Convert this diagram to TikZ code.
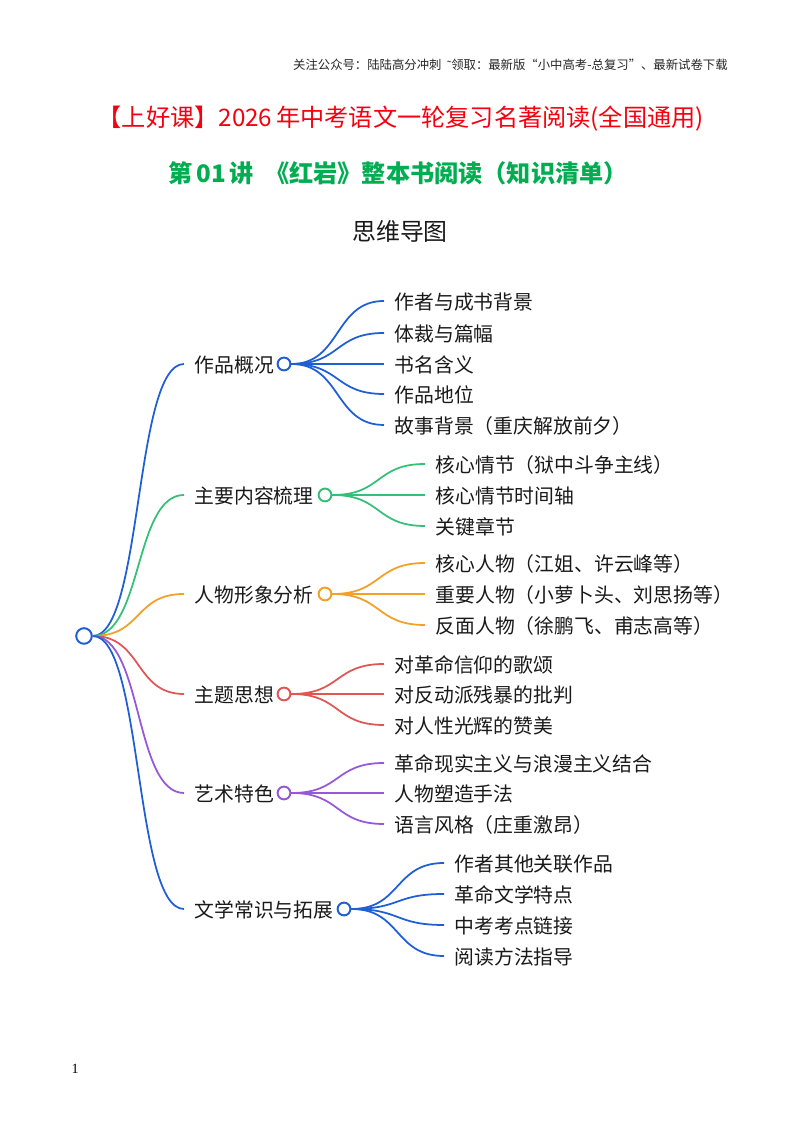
\documentclass[tikz,border=0pt]{standalone}
\usepackage{fontspec}
\setmainfont{Noto Sans CJK SC}
\newfontfamily\numfont{Liberation Serif}
\newcommand{\zhlp}{\char"FF08\relax}
\newcommand{\zhrp}{\char"FF09\relax}
\newcommand{\zhcolon}{\char"FF1A\relax}
\definecolor{linkblue}{HTML}{1F5FD6}
\definecolor{linkgreen}{HTML}{35C077}
\definecolor{linkorange}{HTML}{F2A026}
\definecolor{linkred}{HTML}{E25555}
\definecolor{linkpurple}{HTML}{9558D8}
\definecolor{titlered}{HTML}{F5000F}
\definecolor{titlegreen}{HTML}{00AD50}
\tikzset{
  link/.style={line width=1.25pt, out=0, in=180, out distance=1.25cm, in distance=1.25cm},
  dot/.style={circle, draw=#1, fill=white, line width=1.4pt, minimum size=0.32cm, inner sep=0pt},
  bigdot/.style={dot=#1, minimum size=0.39cm},
  label/.style={anchor=west, font=\fontsize{14.1}{16}\selectfont, text=black!90, text height=0.48cm, text depth=0.06cm, inner ysep=0pt, inner xsep=0.26cm}
}
\begin{document}
\begin{tikzpicture}
\useasboundingbox (0, 0) rectangle (20, 28.3);

\node[anchor=east, inner sep=0pt, font=\fontsize{8.8}{11}\selectfont, text=black!85] (header) at (18.2, 26.67) {关注公众号\zhcolon 陆陆高分冲刺\ \ {\numfont ˜}领取\zhcolon 最新版“小中高考-总复习”、最新试卷下载};
\node[font=\fontsize{17.2}{20}\selectfont, text=titlered] (maintitle) at (10.02, 25.34) {【上好课】2026\,年中考语文一轮复习名著阅读(全国通用)};
\node[font=\bfseries\fontsize{17.2}{20}\selectfont, text=titlegreen] (subtitle) at (9.95, 23.97) {第\,01\,讲\ \ 《红岩》整本书阅读\zhlp 知识清单\zhrp};
\node[font=\fontsize{17}{20}\selectfont, text=black!90] (maptitle) at (10, 22.52) {思维导图};
\node[font=\numfont\fontsize{10}{12}\selectfont] (pagenum) at (1.88, 1.57) {1};

\node[bigdot=linkblue] (root) at (2.1, 12.4) {};

\node[label] (gaikuang) at (4.6, 19.2) {作品概况};
\node[label] (neirong) at (4.6, 15.925) {主要内容梳理};
\node[label] (renwu) at (4.6, 13.45) {人物形象分析};
\node[label] (zhuti) at (4.6, 10.95) {主题思想};
\node[label] (yishu) at (4.6, 8.475) {艺术特色};
\node[label] (changshi) at (4.6, 5.575) {文学常识与拓展};

\node[label] (zuozhe) at (9.6, 20.775) {作者与成书背景};
\node[label] (ticai) at (9.6, 19.975) {体裁与篇幅};
\node[label] (shuming) at (9.6, 19.2) {书名含义};
\node[label] (diwei) at (9.6, 18.45) {作品地位};
\node[label] (beijing) at (9.6, 17.675) {故事背景\zhlp 重庆解放前夕\zhrp};

\node[label] (qingjie) at (10.625, 16.7) {核心情节\zhlp 狱中斗争主线\zhrp};
\node[label] (shijian) at (10.625, 15.925) {核心情节时间轴};
\node[label] (zhangjie) at (10.625, 15.15) {关键章节};

\node[label] (hexin) at (10.625, 14.225) {核心人物\zhlp 江姐、许云峰等\zhrp};
\node[label] (zhongyao) at (10.625, 13.45) {重要人物\zhlp 小萝卜头、刘思扬等\zhrp};
\node[label] (fanmian) at (10.625, 12.675) {反面人物\zhlp 徐鹏飞、甫志高等\zhrp};

\node[label] (gesong) at (9.6, 11.7) {对革命信仰的歌颂};
\node[label] (pipan) at (9.6, 10.95) {对反动派残暴的批判};
\node[label] (zanmei) at (9.6, 10.175) {对人性光辉的赞美};

\node[label] (jiehe) at (9.6, 9.225) {革命现实主义与浪漫主义结合};
\node[label] (suzao) at (9.6, 8.475) {人物塑造手法};
\node[label] (yuyan) at (9.6, 7.7) {语言风格\zhlp 庄重激昂\zhrp};

\node[label] (qita) at (11.1, 6.725) {作者其他关联作品};
\node[label] (tedian) at (11.1, 5.95) {革命文学特点};
\node[label] (kaodian) at (11.1, 5.175) {中考考点链接};
\node[label] (fangfa) at (11.1, 4.4) {阅读方法指导};

\node[dot=linkblue] (gaikuangdot) at (7.1, 19.2) {};
\node[dot=linkgreen] (neirongdot) at (8.125, 15.925) {};
\node[dot=linkorange] (renwudot) at (8.125, 13.45) {};
\node[dot=linkred] (zhutidot) at (7.1, 10.95) {};
\node[dot=linkpurple] (yishudot) at (7.1, 8.475) {};
\node[dot=linkblue] (changshidot) at (8.6, 5.575) {};

\draw[link, linkblue] (root) to (gaikuang.west);
\draw[link, linkgreen] (root) to (neirong.west);
\draw[link, linkorange] (root) to (renwu.west);
\draw[link, linkred] (root) to (zhuti.west);
\draw[link, linkpurple] (root) to (yishu.west);
\draw[link, linkblue] (root) to (changshi.west);

\draw[link, linkblue] (gaikuangdot) to (zuozhe.west);
\draw[link, linkblue] (gaikuangdot) to (ticai.west);
\draw[link, linkblue] (gaikuangdot) to (shuming.west);
\draw[link, linkblue] (gaikuangdot) to (diwei.west);
\draw[link, linkblue] (gaikuangdot) to (beijing.west);

\draw[link, linkgreen] (neirongdot) to (qingjie.west);
\draw[link, linkgreen] (neirongdot) to (shijian.west);
\draw[link, linkgreen] (neirongdot) to (zhangjie.west);

\draw[link, linkorange] (renwudot) to (hexin.west);
\draw[link, linkorange] (renwudot) to (zhongyao.west);
\draw[link, linkorange] (renwudot) to (fanmian.west);

\draw[link, linkred] (zhutidot) to (gesong.west);
\draw[link, linkred] (zhutidot) to (pipan.west);
\draw[link, linkred] (zhutidot) to (zanmei.west);

\draw[link, linkpurple] (yishudot) to (jiehe.west);
\draw[link, linkpurple] (yishudot) to (suzao.west);
\draw[link, linkpurple] (yishudot) to (yuyan.west);

\draw[link, linkblue] (changshidot) to (qita.west);
\draw[link, linkblue] (changshidot) to (tedian.west);
\draw[link, linkblue] (changshidot) to (kaodian.west);
\draw[link, linkblue] (changshidot) to (fangfa.west);
\end{tikzpicture}
\end{document}
